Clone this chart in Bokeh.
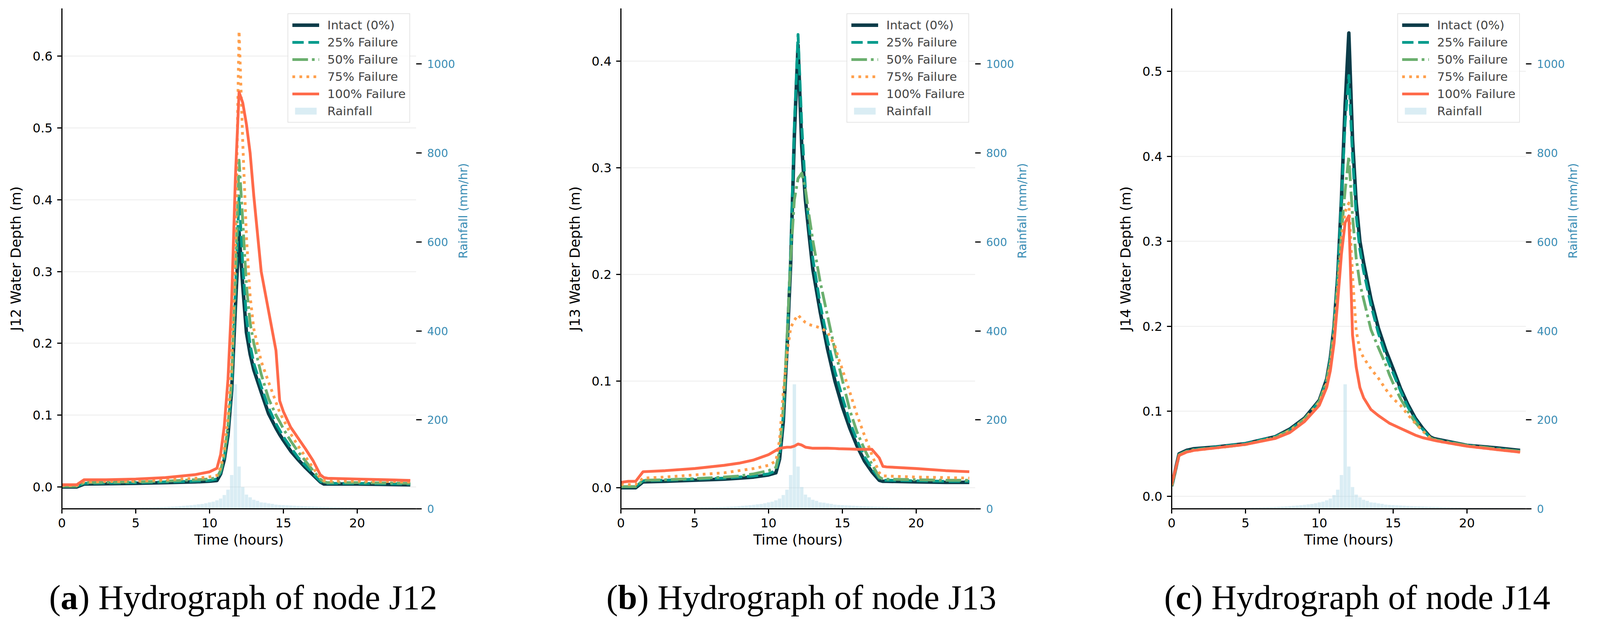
import math
from bokeh.plotting import figure
from bokeh.models import Range1d, LinearAxis, FixedTicker, NumeralTickFormatter, Legend, LegendItem
from bokeh.layouts import row, column
from bokeh.core.properties import value
from bokeh.embed import file_html
from bokeh.resources import INLINE

# time grid (hours) of the depth curves
hours = [0, 0.5, 1.0, 1.5, 3, 5, 7, 8, 9, 10, 10.5, 10.75, 11.0, 11.25, 11.5, 11.75,
         12.0, 12.25, 12.5, 12.75, 13.0, 13.5, 14.0, 14.5, 14.75, 15.0, 15.5, 16.0,
         16.5, 17.0, 17.5, 17.75, 18, 20, 22, 23.6]

# rainfall hyetograph, 15 min bars (mm/hr)
rain_hours = [i * 0.25 for i in range(96)]
rainfall = [1.2, 1.2, 1.3, 1.3, 1.4, 1.4, 1.5, 1.5,
            1.6, 1.6, 1.7, 1.7, 1.8, 1.8, 1.9, 1.9,
            2.2, 2.3, 2.4, 2.5, 2.7, 2.8, 3.0, 3.1,
            3.3, 3.5, 3.7, 3.9, 4.2, 4.6, 5.0, 5.5,
            6.2, 6.8, 7.5, 8.2, 9.0, 10.0, 11.0, 12.5,
            14.5, 16.0, 19.0, 23.0, 31.0, 43.0, 76.0, 280.0,
            95.0, 49.0, 32.0, 26.0, 20.5, 18.0, 14.6, 13.8,
            12.3, 11.1, 9.4, 8.8, 8.4, 8.0, 7.5, 7.0,
            6.6, 6.2, 5.8, 5.5, 5.2, 4.9, 4.6, 4.4,
            4.1, 3.9, 3.7, 3.5, 3.3, 3.1, 3.0, 2.8,
            2.7, 2.6, 2.5, 2.4, 2.3, 2.2, 2.1, 2.0,
            1.9, 1.8, 1.8, 1.7, 1.6, 1.6, 1.5, 1.5]

# node J12
j12_intact = [0.000, 0.000, 0.000, 0.004, 0.0045, 0.005, 0.006, 0.0065, 0.007, 0.008, 0.009, 0.018,
              0.038, 0.072, 0.135, 0.25, 0.355, 0.28, 0.215, 0.185, 0.163, 0.132, 0.102, 0.082,
              0.073, 0.065, 0.050, 0.038, 0.027, 0.017, 0.007, 0.004, 0.004, 0.004, 0.0035, 0.003]
j12_f25 = [0.001, 0.001, 0.001, 0.005, 0.0055, 0.006, 0.007, 0.0075, 0.008, 0.009, 0.011, 0.020,
           0.041, 0.078, 0.14, 0.27, 0.405, 0.31, 0.235, 0.198, 0.172, 0.140, 0.110, 0.088,
           0.079, 0.070, 0.055, 0.041, 0.030, 0.019, 0.008, 0.005, 0.005, 0.005, 0.0045, 0.004]
j12_f50 = [0.001, 0.001, 0.001, 0.006, 0.0065, 0.007, 0.008, 0.009, 0.010, 0.011, 0.013, 0.023,
           0.045, 0.085, 0.15, 0.29, 0.455, 0.37, 0.28, 0.228, 0.20, 0.157, 0.123, 0.100,
           0.091, 0.081, 0.064, 0.049, 0.036, 0.023, 0.011, 0.007, 0.006, 0.006, 0.0055, 0.005]
j12_f75 = [0.002, 0.002, 0.002, 0.007, 0.0075, 0.008, 0.010, 0.011, 0.012, 0.014, 0.016, 0.027,
           0.052, 0.095, 0.17, 0.33, 0.635, 0.48, 0.348, 0.265, 0.22, 0.175, 0.146, 0.118,
           0.104, 0.094, 0.074, 0.057, 0.042, 0.027, 0.012, 0.009, 0.008, 0.008, 0.0075, 0.007]
j12_f100 = [0.003, 0.003, 0.003, 0.010, 0.010, 0.011, 0.013, 0.015, 0.017, 0.021, 0.026, 0.045,
            0.085, 0.15, 0.26, 0.43, 0.55, 0.535, 0.505, 0.465, 0.405, 0.30, 0.245, 0.19,
            0.12, 0.105, 0.083, 0.068, 0.053, 0.037, 0.017, 0.013, 0.012, 0.011, 0.010, 0.009]

# node J13
j13_intact = [0.000, 0.000, 0.000, 0.0055, 0.006, 0.007, 0.008, 0.009, 0.010, 0.012, 0.014, 0.027,
              0.062, 0.13, 0.21, 0.33, 0.415, 0.32, 0.27, 0.237, 0.205, 0.165, 0.13, 0.10,
              0.088, 0.076, 0.056, 0.039, 0.025, 0.015, 0.007, 0.006, 0.006, 0.0055, 0.005, 0.005]
j13_f25 = [0.001, 0.001, 0.001, 0.0065, 0.007, 0.008, 0.009, 0.010, 0.011, 0.013, 0.016, 0.030,
           0.068, 0.135, 0.22, 0.34, 0.425, 0.34, 0.28, 0.245, 0.215, 0.172, 0.138, 0.109,
           0.097, 0.085, 0.062, 0.044, 0.029, 0.018, 0.009, 0.007, 0.007, 0.0065, 0.006, 0.006]
j13_f50 = [0.001, 0.001, 0.001, 0.007, 0.0075, 0.0085, 0.010, 0.011, 0.013, 0.016, 0.019, 0.035,
           0.075, 0.14, 0.215, 0.27, 0.29, 0.295, 0.28, 0.255, 0.232, 0.193, 0.161, 0.129,
           0.115, 0.101, 0.073, 0.052, 0.036, 0.022, 0.010, 0.008, 0.008, 0.0075, 0.007, 0.007]
j13_f75 = [0.003, 0.003, 0.003, 0.009, 0.010, 0.012, 0.014, 0.016, 0.018, 0.021, 0.025, 0.045,
           0.09, 0.125, 0.150, 0.157, 0.162, 0.158, 0.155, 0.153, 0.152, 0.150, 0.146, 0.133,
           0.121, 0.111, 0.090, 0.068, 0.049, 0.031, 0.014, 0.011, 0.011, 0.010, 0.0095, 0.009]
j13_f100 = [0.005, 0.006, 0.006, 0.015, 0.016, 0.018, 0.021, 0.023, 0.026, 0.031, 0.035, 0.037,
            0.0375, 0.038, 0.038, 0.039, 0.041, 0.040, 0.038, 0.0375, 0.037, 0.037, 0.037, 0.0368,
            0.0366, 0.0365, 0.0363, 0.036, 0.036, 0.036, 0.028, 0.020, 0.0195, 0.018, 0.016, 0.015]

# node J14
j14_intact = [0.012, 0.050, 0.054, 0.056, 0.058, 0.062, 0.070, 0.079, 0.092, 0.113, 0.138, 0.163,
              0.20, 0.26, 0.35, 0.46, 0.545, 0.42, 0.345, 0.30, 0.275, 0.232, 0.198, 0.172,
              0.161, 0.150, 0.127, 0.108, 0.092, 0.080, 0.070, 0.068, 0.067, 0.060, 0.057, 0.054]
j14_f25 = [0.012, 0.049, 0.053, 0.055, 0.058, 0.062, 0.070, 0.078, 0.091, 0.112, 0.137, 0.162,
           0.20, 0.26, 0.35, 0.44, 0.495, 0.40, 0.33, 0.29, 0.265, 0.225, 0.192, 0.166,
           0.155, 0.145, 0.124, 0.105, 0.090, 0.079, 0.069, 0.067, 0.066, 0.060, 0.056, 0.053]
j14_f50 = [0.012, 0.049, 0.053, 0.055, 0.057, 0.061, 0.069, 0.078, 0.091, 0.112, 0.136, 0.160,
           0.197, 0.25, 0.31, 0.36, 0.40, 0.33, 0.28, 0.25, 0.232, 0.196, 0.175, 0.155,
           0.143, 0.133, 0.115, 0.100, 0.087, 0.077, 0.069, 0.067, 0.066, 0.060, 0.056, 0.053]
j14_f75 = [0.013, 0.048, 0.052, 0.054, 0.057, 0.061, 0.069, 0.077, 0.090, 0.110, 0.133, 0.156,
           0.19, 0.245, 0.30, 0.335, 0.345, 0.26, 0.195, 0.172, 0.163, 0.150, 0.139, 0.126,
           0.120, 0.115, 0.107, 0.096, 0.086, 0.077, 0.069, 0.067, 0.065, 0.059, 0.055, 0.052]
j14_f100 = [0.015, 0.048, 0.052, 0.054, 0.057, 0.061, 0.068, 0.075, 0.088, 0.107, 0.128, 0.148,
            0.18, 0.23, 0.285, 0.322, 0.33, 0.19, 0.152, 0.128, 0.116, 0.102, 0.095, 0.089,
            0.086, 0.084, 0.080, 0.076, 0.072, 0.069, 0.067, 0.066, 0.065, 0.059, 0.055, 0.052]

labels = ["Intact (0%)", "25% Failure", "50% Failure", "75% Failure", "100% Failure"]
colors = ["#0B3C49", "#009B8C", "#6BAF6E", "#FFA04D", "#FF6A4A"]
widths = [9, 7.2, 7.2, 7.2, 7.2]
dashes = ["solid", "29 12", "40 10 7 10", "7 11", "solid"]

FONT = "DejaVu Sans"
RAIN_BLUE = "#3A8DB4"
FRAME_W = 907
FRAME_H = 1281
LEFT = 158
TOP = 21
PLOT_H = 1442
CAP_H = 142
CAP_PX = 89


def panel(node, series, y_lo, y_hi, y_ticks, width):
    p = figure(width=width, height=PLOT_H, x_range=Range1d(0, 24), y_range=Range1d(y_lo, y_hi),
               output_backend="svg", toolbar_location=None,
               min_border_left=LEFT, min_border_right=width - LEFT - FRAME_W,
               min_border_top=TOP, min_border_bottom=PLOT_H - TOP - FRAME_H)
    p.outline_line_color = None
    p.extra_y_ranges = {"rain": Range1d(0, 1125)}

    bars = p.vbar(x=rain_hours, top=rainfall, width=0.23, bottom=0, y_range_name="rain",
                  fill_color="#ADD8E6", fill_alpha=0.45, line_color=None)

    items = []
    for vals, lab, col, lw, dash in zip(series, labels, colors, widths, dashes):
        r = p.line(hours, vals, line_color=col, line_width=lw, line_dash=dash, line_join="round")
        items.append(LegendItem(label=lab, renderers=[r]))
    items.append(LegendItem(label="Rainfall", renderers=[bars]))

    ya = p.left[0]
    xa = p.below[0]
    ya.ticker = FixedTicker(ticks=y_ticks)
    ya.formatter = NumeralTickFormatter(format="0.0")
    ya.axis_label = node + " Water Depth (m)"
    xa.ticker = FixedTicker(ticks=[0, 5, 10, 15, 20])
    xa.axis_label = "Time (hours)"
    for ax in (xa, ya):
        ax.axis_line_width = 3
        ax.axis_line_color = "black"
        ax.major_tick_line_width = 3
        ax.major_tick_out = 12
        ax.major_tick_in = 0
        ax.minor_tick_line_color = None
        ax.major_label_text_font = FONT
        ax.major_label_text_font_size = "32px"
        ax.major_label_text_color = "black"
        ax.major_label_standoff = 12
        ax.axis_label_text_font = FONT
        ax.axis_label_text_font_size = "36px"
        ax.axis_label_text_font_style = "normal"
        ax.axis_label_text_color = "black"
    ya.axis_label_standoff = 20
    xa.axis_label_standoff = 8

    ra = LinearAxis(y_range_name="rain", axis_label="Rainfall (mm/hr)",
                    ticker=FixedTicker(ticks=[0, 200, 400, 600, 800, 1000]))
    ra.axis_line_color = None
    ra.major_tick_line_width = 3
    ra.major_tick_out = 14
    ra.major_tick_in = 0
    ra.minor_tick_line_color = None
    ra.major_label_text_font = FONT
    ra.major_label_text_font_size = "28px"
    ra.major_label_text_color = RAIN_BLUE
    ra.major_label_standoff = 14
    ra.axis_label_text_font = FONT
    ra.axis_label_text_font_size = "30px"
    ra.axis_label_text_font_style = "normal"
    ra.axis_label_text_color = RAIN_BLUE
    ra.axis_label_standoff = 18
    if "axis_label_orientation" in ra.properties():
        ra.axis_label_orientation = math.pi / 2
    p.add_layout(ra, "right")

    p.xgrid.grid_line_color = None
    p.ygrid.ticker = FixedTicker(ticks=y_ticks)
    p.ygrid.grid_line_color = "#ececec"
    p.ygrid.grid_line_width = 2

    legend = Legend(items=items, location=(578, 988))
    legend.label_text_font = FONT
    legend.label_text_font_size = "31px"
    legend.glyph_width = 69
    legend.glyph_height = 22
    legend.label_height = 36
    legend.label_standoff = 21
    legend.padding = 10
    legend.spacing = 8
    legend.margin = 0
    legend.border_line_color = "#cccccc"
    legend.border_line_width = 2
    legend.background_fill_alpha = 0.8
    p.add_layout(legend)
    return p


pa = panel("J12", [j12_intact, j12_f25, j12_f50, j12_f75, j12_f100],
           -0.0305, 0.6665, [0, 0.1, 0.2, 0.3, 0.4, 0.5, 0.6], 1431)
pb = panel("J13", [j13_intact, j13_f25, j13_f50, j13_f75, j13_f100],
           -0.0198, 0.4495, [0, 0.1, 0.2, 0.3, 0.4], 1410)
pc = panel("J14", [j14_intact, j14_f25, j14_f50, j14_f75, j14_f100],
           -0.0147, 0.574, [0, 0.1, 0.2, 0.3, 0.4, 0.5], 1226)

# captions under the panels; x in page pixels, y in pixels above the strip bottom
row_w = 1431 + 1410 + 1226
cap = figure(width=row_w, height=CAP_H, x_range=Range1d(8, 8 + row_w), y_range=Range1d(0, CAP_H),
             x_axis_type=None, y_axis_type=None, min_border=0, toolbar_location=None,
             output_backend="svg")
cap.outline_line_color = None
cap.grid.visible = False

serif = value("Liberation Serif")
cap_mid = 56
captions = [("a", "J12", 630, 0.5), ("b", "J13", 2059, 0.556), ("c", "J14", 3482, 0.444)]
for letter, node, centre, bold_w in captions:
    total = (0.333 + bold_w + 10.331) * CAP_PX
    x0 = centre - total / 2
    x1 = x0 + 0.333 * CAP_PX
    x2 = x1 + bold_w * CAP_PX
    for x, txt, style in ((x0, "(", "normal"), (x1, letter, "bold"),
                          (x2, ") Hydrograph of node " + node, "normal")):
        cap.text(x=[x], y=[cap_mid], text=[txt], text_font=serif, text_font_size=f"{CAP_PX}px",
                 text_font_style=style, text_baseline="middle", text_align="left",
                 text_color="black")

layout = column(row(pa, pb, pc), cap)
open("out.html", "w").write(file_html(layout, INLINE))
